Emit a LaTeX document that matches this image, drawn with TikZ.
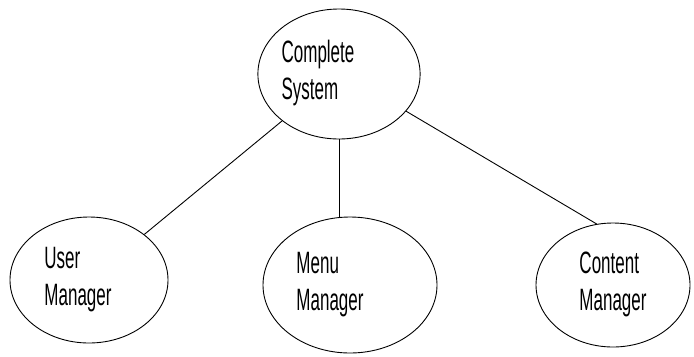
\documentclass[tikz,border=0pt]{standalone}
\usepackage{fontspec}
\setmainfont{Liberation Sans}[FakeStretch=0.55]
\usepackage{tikz}
\usetikzlibrary{arrows,calc,positioning,shapes}

\newcommand{\parttext}[3]{\begin{tabular}{@{}l@{\hspace{#1}}}#2\\#3\end{tabular}}

\begin{document}
\begin{tikzpicture}[x=1bp,y=-1bp,
  part/.style={draw, ellipse, line width=0.9pt, inner sep=0pt,
    font=\fontsize{31}{37}\selectfont}]
  \useasboundingbox (0,0) rectangle (694,356);
  \node[part, minimum width=156bp, minimum height=130bp] (sys) at (339,74) {\parttext{42bp}{Complete}{System}};
  \node[part, minimum width=158bp, minimum height=126bp] (user) at (89,280) {\parttext{22bp}{User}{Manager}};
  \node[part, minimum width=174bp, minimum height=136bp] (menu) at (350,285) {\parttext{40bp}{Menu}{Manager}};
  \node[part, minimum width=154bp, minimum height=124bp] (content) at (613,285) {\parttext{0bp}{Content}{Manager}};
  \draw[line width=0.9pt] (sys) -- (user);
  \draw[line width=0.9pt] (sys.south) -- (sys.south |- menu.north);
  \draw[line width=0.9pt] (sys.-29) -- (content.105);
\end{tikzpicture}
\end{document}
